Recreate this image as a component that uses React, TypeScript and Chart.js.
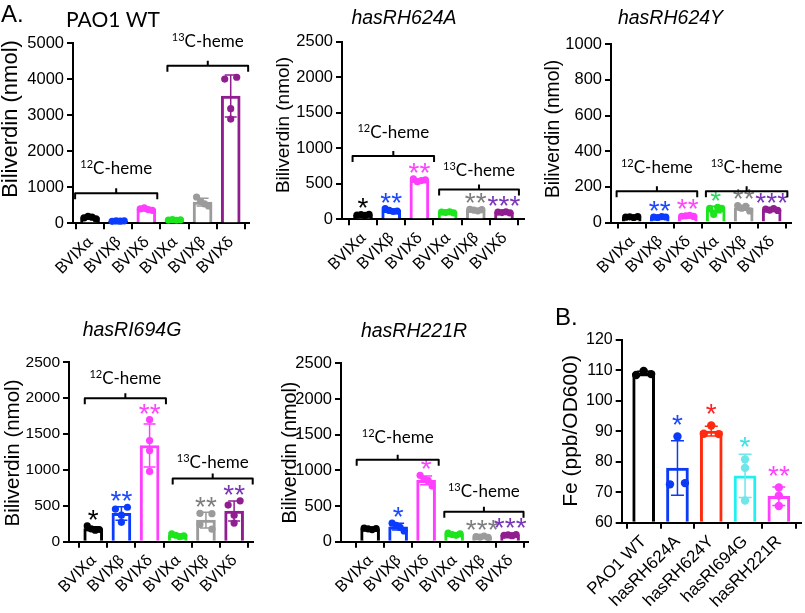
import React, { useEffect, useRef } from 'react';
import { Chart, registerables } from 'chart.js';

Chart.register(...registerables);

// ---------- data ----------
const bvLabels = ['BVIXα', 'BVIXβ', 'BVIXδ', 'BVIXα', 'BVIXβ', 'BVIXδ'];
const strainLabels = ['PAO1 WT', 'hasRH624A', 'hasRH624Y', 'hasRI694G', 'hasRH221R'];

const wtValues = [[150, 190, 170, 120], [55, 65, 60, 70], [400, 430, 380, 360], [90, 100, 85, 95], [730, 610, 540, 480], [4000, 4050, 3180, 2890]];
const h624aValues = [[60, 65, 55, 70], [150, 125, 110, 115], [570, 530, 545, 555], [100, 95, 105, 90], [140, 130, 120, 135], [100, 95, 105, 90]];
const h624yValues = [[30, 32, 28, 33], [30, 28, 33, 31], [35, 38, 40, 34], [80, 45, 85, 80], [95, 80, 90, 65], [75, 70, 78, 68]];
const i694gValues = [[220, 180, 160, 170], [455, 370, 480, 270], [1700, 1410, 1270, 980], [110, 90, 70, 80], [395, 240, 390, 175], [510, 260, 570, 370]];
const h221rValues = [[190, 180, 170, 185], [260, 230, 200, 150], [930, 870, 860, 780], [120, 100, 90, 110], [70, 65, 80, 60], [90, 95, 85, 100]];
const feValues = [[108.5, 109.8, 108.8], [88.3, 72.6, 73.0], [91.9, 89.2, 89.1], [80.8, 78.0, 67.3], [71.6, 68.9, 65.5]];

const wtStars = ['', '', '', '', '', ''];
const h624aStars = ['*', '**', '**', '', '**', '***'];
const h624yStars = ['', '**', '**', '*', '**', '***'];
const i694gStars = ['*', '**', '**', '', '**', '**'];
const h221rStars = ['', '*', '*', '', '***', '***'];
const feStars = ['', '*', '*', '*', '**'];

const ticksWT = [0, 1000, 2000, 3000, 4000, 5000];
const ticks2500 = [0, 500, 1000, 1500, 2000, 2500];
const ticks1000 = [0, 200, 400, 600, 800, 1000];
const ticksFe = [60, 70, 80, 90, 100, 110, 120];

// ---------- styles ----------
const bvColors = ['#000000', '#0B3BFF', '#FF3EFF', '#1DE51D', '#9B9B9B', '#911E91'];
const bvStarColors = ['#000000', '#1C48FF', '#FF44FF', '#27DB5E', '#7E7E7E', '#7A36B8'];
const feColors = ['#000000', '#0B3BF5', '#FF2B0E', '#22EFEF', '#FF3EFF'];
const fePointColors = ['#000000', '#0B3BF5', '#FF2B0E', '#6FE6EA', '#FF3EFF'];
const feStarColors = ['#000000', '#1C48FF', '#FF2020', '#3BE2E8', '#FF44FF'];

const ARIAL = '"Liberation Sans", Arial, sans-serif';
const CAL = 'Lato, "Liberation Sans", sans-serif';

type Bracket = { sup: string; from: number; to: number; at: number; lift: number };

interface PanelCfg {
  key: string;
  box: number[];
  plot: number[];
  xMin: number;
  xMax: number;
  yMin: number;
  yMax: number;
  yTicks: number[];
  labels: string[];
  values: number[][];
  colors: string[];
  pointColors: string[];
  starColors: string[];
  stars: string[];
  brackets: Bracket[];
  title?: { text: string; x: number; y: number; italic: boolean };
  yTitle: { text: string; x: number; y: number; size: number };
  letter?: { text: string; x: number; y: number };
  tickSize: number;
  xFont: string;
  xSize: number;
  barW: number;
  r: number;
  cap: number;
  starGap: number;
}

const aCommon = {
  labels: bvLabels,
  colors: bvColors,
  pointColors: bvColors,
  starColors: bvStarColors,
  xFont: CAL,
  xSize: 16,
  barW: 19,
  r: 3.6,
  cap: 6,
  starGap: 7.5,
  yMin: 0,
};

const panels: PanelCfg[] = [
  {
    ...aCommon,
    key: 'wt',
    box: [0, 0, 262, 300],
    plot: [73, 43, 249, 223.3],
    xMin: -0.605, xMax: 5.65,
    yMax: 5000, yTicks: ticksWT,
    values: wtValues, stars: wtStars,
    brackets: [
      { sup: '12', from: -0.53, to: 2.39, at: 830, lift: 19 },
      { sup: '13', from: 2.75, to: 5.62, at: 4370, lift: 19 },
    ],
    title: { text: 'PAO1 WT', x: 113, y: 26.7, italic: false },
    yTitle: { text: 'Biliverdin (nmol)', x: 11, y: 119, size: 22 },
    letter: { text: 'A.', x: 1, y: 22 },
    tickSize: 16.5,
  },
  {
    ...aCommon,
    key: 'h624a',
    box: [262, 0, 273, 300],
    plot: [342, 41.7, 524, 219.3],
    xMin: -0.745, xMax: 5.71,
    yMax: 2500, yTicks: ticks2500,
    values: h624aValues, stars: h624aStars,
    brackets: [
      { sup: '12', from: -0.37, to: 2.52, at: 890, lift: 18 },
      { sup: '13', from: 2.7, to: 5.53, at: 420, lift: 13 },
    ],
    title: { text: 'hasRH624A', x: 404, y: 24, italic: true },
    yTitle: { text: 'Biliverdin (nmol)', x: 284, y: 125, size: 19 },
    tickSize: 16.5,
  },
  {
    ...aCommon,
    key: 'h624y',
    box: [535, 0, 270, 300],
    plot: [611, 44.3, 791, 222.5],
    xMin: -0.74, xMax: 5.69,
    yMax: 1000, yTicks: ticks1000,
    values: h624yValues, stars: h624yStars,
    brackets: [
      { sup: '12', from: -0.54, to: 2.34, at: 175, lift: 18 },
      { sup: '13', from: 2.65, to: 5.56, at: 175, lift: 18 },
    ],
    title: { text: 'hasRH624Y', x: 670.5, y: 24, italic: true },
    yTitle: { text: 'Biliverdin (nmol)', x: 554, y: 129, size: 19.3 },
    tickSize: 16.5,
  },
  {
    ...aCommon,
    key: 'i694g',
    box: [0, 300, 262, 313],
    plot: [69, 362.3, 253, 541.7],
    xMin: -0.86, xMax: 5.67,
    yMax: 2500, yTicks: ticks2500,
    values: i694gValues, stars: i694gStars,
    brackets: [
      { sup: '12', from: -0.3, to: 2.58, at: 2000, lift: 14 },
      { sup: '13', from: 2.82, to: 5.66, at: 880, lift: 11 },
    ],
    title: { text: 'hasRI694G', x: 132, y: 335.7, italic: true },
    yTitle: { text: 'Biliverdin (nmol)', x: 13.3, y: 453, size: 20.5 },
    tickSize: 15.5,
  },
  {
    ...aCommon,
    key: 'h221r',
    box: [262, 300, 278, 313],
    plot: [341, 363.3, 528, 541.7],
    xMin: -1.04, xMax: 5.64,
    yMax: 2500, yTicks: ticks2500,
    values: h221rValues, stars: h221rStars,
    brackets: [
      { sup: '12', from: -0.48, to: 2.45, at: 1150, lift: 17 },
      { sup: '13', from: 2.65, to: 5.48, at: 420, lift: 15 },
    ],
    title: { text: 'hasRH221R', x: 414, y: 336.7, italic: true },
    yTitle: { text: 'Biliverdin (nmol)', x: 291, y: 452.5, size: 19.8 },
    tickSize: 16.5,
  },
  {
    key: 'fe',
    box: [540, 290, 265, 323],
    plot: [621.7, 340, 804, 522.7],
    xMin: -0.65, xMax: 4.65,
    yMin: 60, yMax: 120, yTicks: ticksFe,
    labels: strainLabels,
    values: feValues,
    colors: feColors,
    pointColors: fePointColors,
    starColors: feStarColors,
    stars: feStars,
    brackets: [],
    yTitle: { text: 'Fe (ppb/OD600)', x: 571, y: 431, size: 21 },
    letter: { text: 'B.', x: 555, y: 325 },
    tickSize: 16,
    xFont: ARIAL,
    xSize: 17,
    barW: 22,
    r: 4.2,
    cap: 6.5,
    starGap: 12.5,
  },
];

function stats(vals: number[]) {
  const n = vals.length;
  const mean = vals.reduce((a, b) => a + b, 0) / n;
  const sd = Math.sqrt(vals.reduce((a, b) => a + (b - mean) * (b - mean), 0) / (n - 1));
  return { mean, sd };
}

function swarmData(chart: any, cfg: PanelCfg) {
  const xs = chart.scales.x;
  const ys = chart.scales.y;
  const unit = xs.getPixelForValue(1) - xs.getPixelForValue(0);
  const spread = cfg.barW / 2 - 3.5;
  return cfg.values.map((vals, g) => {
    const pts = vals.map((v, j) => ({ j, v, py: ys.getPixelForValue(v) }));
    const sorted = [...pts].sort((a, b) => a.py - b.py);
    const clusters: any[][] = [];
    let cur: any[] = [];
    sorted.forEach((p, k) => {
      if (k > 0 && p.py - sorted[k - 1].py >= 2 * cfg.r * 0.95) {
        clusters.push(cur);
        cur = [];
      }
      cur.push(p);
    });
    if (cur.length) clusters.push(cur);
    const off = new Array(vals.length).fill(0);
    clusters.forEach((c) => {
      const k = c.length;
      if (k < 2) return;
      const ordered = [...c].sort((a, b) => a.j - b.j);
      ordered.forEach((p, idx) => {
        off[p.j] = -spread + (2 * spread * idx) / (k - 1);
      });
    });
    return vals.map((v, j) => ({ x: g + off[j] / unit, y: v }));
  });
}

function makePlugin(cfg: PanelCfg) {
  const ox = cfg.box[0];
  const oy = cfg.box[1];
  return {
    id: 'decor_' + cfg.key,
    afterDatasetDraw(chart: any, args: any) {
      if (args.index !== 0) return;
      const ctx = chart.ctx;
      const xs = chart.scales.x;
      const ys = chart.scales.y;
      ctx.save();
      cfg.values.forEach((vals, i) => {
        const { mean, sd } = stats(vals);
        const x = xs.getPixelForValue(i);
        const yT = ys.getPixelForValue(mean + sd);
        const yB = ys.getPixelForValue(Math.max(cfg.yMin, mean - sd));
        ctx.strokeStyle = cfg.pointColors[i];
        ctx.lineWidth = 1.5;
        ctx.beginPath();
        ctx.moveTo(x, yT);
        ctx.lineTo(x, yB);
        ctx.moveTo(x - cfg.cap, yT);
        ctx.lineTo(x + cfg.cap, yT);
        ctx.moveTo(x - cfg.cap, yB);
        ctx.lineTo(x + cfg.cap, yB);
        ctx.stroke();
      });
      ctx.restore();
    },
    afterDraw(chart: any) {
      const ctx = chart.ctx;
      const xs = chart.scales.x;
      const ys = chart.scales.y;
      ctx.save();
      // asterisks
      ctx.font = `28px ${ARIAL}`;
      const m = ctx.measureText('*');
      const asc = m.actualBoundingBoxAscent;
      const desc = m.actualBoundingBoxDescent;
      ctx.textAlign = 'center';
      ctx.textBaseline = 'alphabetic';
      cfg.values.forEach((vals, i) => {
        const s = cfg.stars[i];
        if (!s) return;
        const { mean, sd } = stats(vals);
        let top = ys.getPixelForValue(mean + sd);
        vals.forEach((v) => {
          top = Math.min(top, ys.getPixelForValue(v) - cfg.r);
        });
        const cy = top - cfg.starGap;
        const x = xs.getPixelForValue(i);
        const n = s.length;
        ctx.fillStyle = cfg.starColors[i];
        for (let k = 0; k < n; k++) {
          const sx = x + (k - (n - 1) / 2) * 11;
          ctx.fillText('*', sx, cy + (asc - desc) / 2);
        }
      });
      // brackets
      cfg.brackets.forEach((b) => {
        const x1 = xs.getPixelForValue(b.from);
        const x2 = xs.getPixelForValue(b.to);
        const y = ys.getPixelForValue(b.at);
        const xc = (x1 + x2) / 2;
        ctx.strokeStyle = '#000';
        ctx.lineWidth = 2;
        ctx.lineJoin = 'round';
        ctx.beginPath();
        ctx.moveTo(x1, y + 6);
        ctx.lineTo(x1, y);
        ctx.lineTo(x2, y);
        ctx.lineTo(x2, y + 6);
        ctx.moveTo(xc, y);
        ctx.lineTo(xc, y - 5);
        ctx.stroke();
        const supFont = `11px ${CAL}`;
        const mainFont = `17px ${CAL}`;
        ctx.font = supFont;
        const w1 = ctx.measureText(b.sup).width;
        ctx.font = mainFont;
        const w2 = ctx.measureText('C-heme').width;
        const x0 = xc - (w1 + w2) / 2;
        const base = y - b.lift;
        ctx.fillStyle = '#000';
        ctx.textAlign = 'left';
        ctx.font = supFont;
        ctx.fillText(b.sup, x0, base - 6);
        ctx.font = mainFont;
        ctx.fillText('C-heme', x0 + w1, base);
      });
      // title
      ctx.fillStyle = '#000';
      if (cfg.title) {
        ctx.font = cfg.title.italic ? `italic 19.5px ${ARIAL}` : `21px ${CAL}`;
        ctx.textAlign = 'center';
        ctx.textBaseline = 'alphabetic';
        ctx.fillText(cfg.title.text, cfg.title.x - ox, cfg.title.y - oy);
      }
      if (cfg.letter) {
        ctx.font = `24px ${ARIAL}`;
        ctx.textAlign = 'left';
        ctx.textBaseline = 'alphabetic';
        ctx.fillText(cfg.letter.text, cfg.letter.x - ox, cfg.letter.y - oy);
      }
      // y title
      ctx.save();
      ctx.translate(cfg.yTitle.x - ox, cfg.yTitle.y - oy);
      ctx.rotate(-Math.PI / 2);
      ctx.font = `${cfg.yTitle.size}px ${ARIAL}`;
      ctx.textAlign = 'center';
      ctx.textBaseline = 'middle';
      ctx.fillText(cfg.yTitle.text, 0, 0);
      ctx.restore();
      ctx.restore();
    },
  };
}

function Panel({ cfg }: { cfg: PanelCfg }) {
  const ref = useRef<HTMLCanvasElement | null>(null);
  useEffect(() => {
    const canvas = ref.current;
    if (!canvas) return;
    const [bl, bt, bw, bh] = cfg.box;
    const [pl, pt, pr, pb] = cfg.plot;
    const means = cfg.values.map((v) => stats(v).mean);
    const axisCommon = {
      grid: {
        display: true,
        drawOnChartArea: false,
        drawTicks: true,
        tickLength: 6,
        tickWidth: 2,
        tickColor: '#000',
        color: '#000',
        lineWidth: 2,
      },
      border: { display: true, color: '#000', width: 2 },
    };
    const datasets: any[] = [
      {
        type: 'bar',
        data: means.map((m, i) => ({ x: i, y: m })),
        backgroundColor: '#ffffff',
        borderColor: cfg.colors,
        borderWidth: 3,
        borderSkipped: 'start',
        barThickness: cfg.barW,
        base: cfg.yMin,
        order: 5,
      },
      ...cfg.values.map((vals, g) => ({
        type: 'scatter',
        data: vals.map((v) => ({ x: g, y: v })),
        pointRadius: cfg.r,
        pointHoverRadius: cfg.r,
        pointBackgroundColor: cfg.pointColors[g],
        pointBorderColor: cfg.pointColors[g],
        pointBorderWidth: 0,
        showLine: false,
        order: 0,
        clip: false,
      })),
    ];
    const chart = new Chart(canvas, {
      type: 'bar',
      data: { datasets },
      options: {
        responsive: false,
        maintainAspectRatio: false,
        animation: false,
        events: [],
        layout: { padding: { left: 0, top: pt - bt, right: bl + bw - pr, bottom: 0 } },
        plugins: {
          legend: { display: false },
          tooltip: { enabled: false },
          title: { display: false },
        },
        scales: {
          x: {
            type: 'linear',
            min: cfg.xMin,
            max: cfg.xMax,
            offset: false,
            afterBuildTicks: (s: any) => {
              s.ticks = cfg.labels.map((_, i) => ({ value: i }));
            },
            afterFit: (s: any) => {
              s.height = bt + bh - pb;
            },
            ticks: {
              autoSkip: false,
              minRotation: 45,
              maxRotation: 45,
              color: '#000',
              padding: 3,
              font: { family: cfg.xFont, size: cfg.xSize },
              callback: (v: any) => cfg.labels[Math.round(Number(v))] ?? '',
            },
            ...axisCommon,
          },
          y: {
            type: 'linear',
            min: cfg.yMin,
            max: cfg.yMax,
            afterBuildTicks: (s: any) => {
              s.ticks = cfg.yTicks.map((v) => ({ value: v }));
            },
            afterFit: (s: any) => {
              s.width = pl - bl;
            },
            ticks: {
              color: '#000',
              padding: 3,
              font: { family: ARIAL, size: cfg.tickSize },
              callback: (v: any) => String(v),
            },
            ...axisCommon,
          },
        },
      } as any,
      plugins: [makePlugin(cfg)],
    } as any);
    const sw = swarmData(chart, cfg);
    sw.forEach((d, g) => {
      chart.data.datasets[g + 1].data = d as any;
    });
    chart.update('none');
    return () => chart.destroy();
  }, [cfg]);
  return (
    <canvas
      ref={ref}
      width={cfg.box[2]}
      height={cfg.box[3]}
      style={{ position: 'absolute', left: cfg.box[0], top: cfg.box[1], width: cfg.box[2], height: cfg.box[3] }}
    />
  );
}

export default function App() {
  return (
    <div style={{ position: 'absolute', left: 0, top: 0, width: 805, height: 613, background: '#ffffff', overflow: 'hidden' }}>
      {panels.map((p) => (
        <Panel key={p.key} cfg={p} />
      ))}
    </div>
  );
}
